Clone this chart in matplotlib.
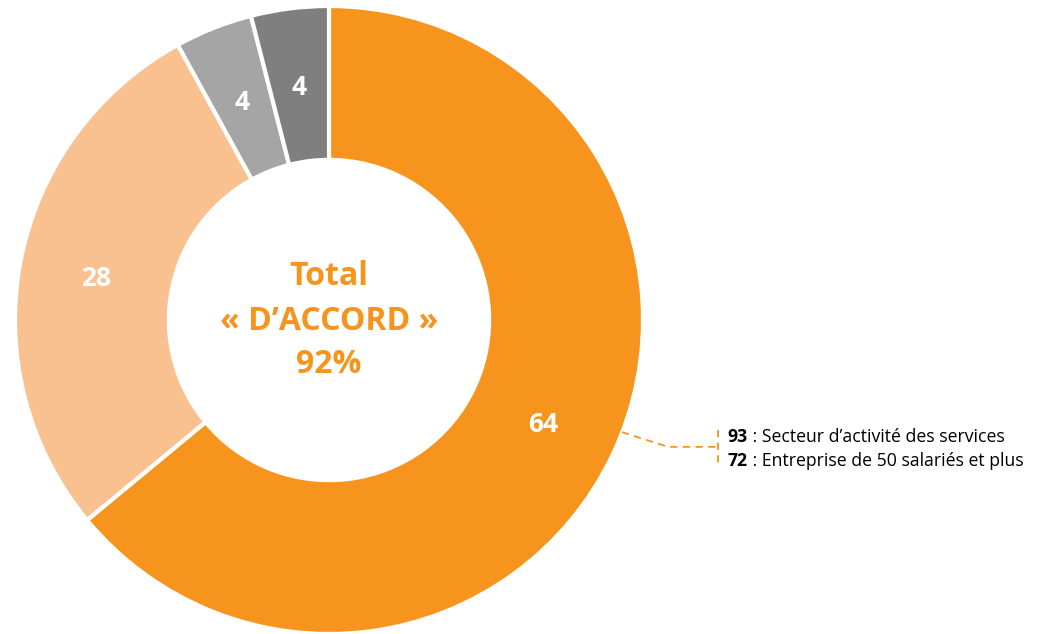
import matplotlib.pyplot as plt
import numpy as np

labels = ['Tout à fait d\'accord', 'Plutôt d\'accord', 'Plutôt pas d\'accord', 'Pas du tout d\'accord']
values = [64, 28, 4, 4]
colors = ['#F7941D', '#F9C18F', '#A5A5A5', '#7F7F7F']
center_lines = ['Total', '« D\u2019ACCORD »', '92%']
notes = [('93', ' : Secteur d\u2019activité des services'),
         ('72', ' : Entreprise de 50 salariés et plus')]

plt.rcParams['font.family'] = ['Open Sans', 'DejaVu Sans']

W, H = 1047, 634
fig = plt.figure(figsize=(W / 100, H / 100), dpi=100)
cx, cy, R = 329, 320, 314
ax = fig.add_axes([(cx - R) / W, (H - cy - R) / H, 2 * R / W, 2 * R / H])
ax.axis('off')

hole = 0.51
wedges, _ = ax.pie(values, colors=colors, startangle=90, counterclock=False,
                   radius=1, wedgeprops=dict(width=1 - hole, edgecolor='white', linewidth=3))
ax.set_xlim(-1, 1)
ax.set_ylim(-1, 1)

rmid = (1 + hole) / 2
for w, v in zip(wedges, values):
    ang = np.deg2rad((w.theta1 + w.theta2) / 2)
    ax.text(rmid * np.cos(ang), rmid * np.sin(ang) - 0.01, str(v), ha='center', va='center',
            color='white', fontsize=19, fontweight='bold')

for y, t in zip([0.137, -0.006, -0.143], center_lines):
    ax.text(0, y, t, ha='center', va='center', color='#F7941D',
            fontsize=23, fontweight='bold')

# annotation leader line
dash = dict(color='#F7941D', linewidth=1.3, linestyle=(0, (4, 3)), clip_on=False)
ax.plot([0.933, 1.08, 1.239], [-0.357, -0.404, -0.404], **dash)
ax.plot([1.239, 1.239], [-0.35, -0.462], **dash)

ty = [-0.372, -0.448]
for (num, txt), y in zip(notes, ty):
    t1 = ax.text(1.27, y, num, ha='left', va='center', fontsize=12.7, fontweight='bold',
                 color='black', clip_on=False)
    fig.canvas.draw()
    bb = t1.get_window_extent()
    x2 = ax.transData.inverted().transform((bb.x1, 0))[0]
    ax.text(x2, y, txt, ha='left', va='center', fontsize=12.7, color='black', clip_on=False)

fig.savefig('out.png', dpi=100)
